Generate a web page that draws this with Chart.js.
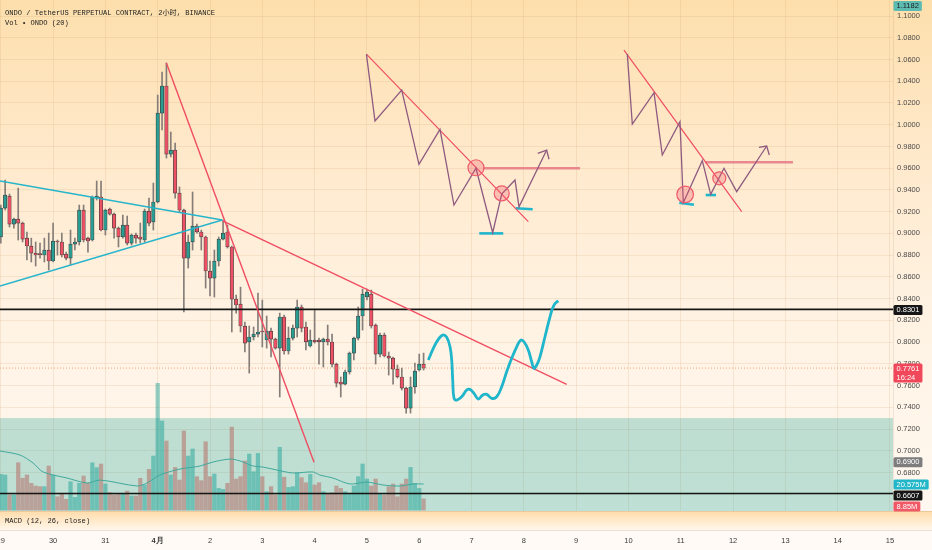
<!DOCTYPE html>
<html>
<head>
<meta charset="utf-8">
<script src="https://cdn.jsdelivr.net/npm/chart.js@4.4.1/dist/chart.umd.min.js"></script>
<style>
  html, body { margin: 0; padding: 0; background: #fffaf4; }
  #wrap { width: 932px; height: 550px; position: relative; overflow: hidden; }
  .lbl { position: absolute; left: 5px; font: 7.1px "Liberation Mono", "Noto Sans CJK SC", monospace; color: #1c1c1c; white-space: nowrap; }
</style>
</head>
<body>
<div id="wrap">
  <canvas id="chart" width="932" height="550"></canvas>
  <div class="lbl" style="top:7px">ONDO / TetherUS PERPETUAL CONTRACT, 2小时, BINANCE</div>
  <div class="lbl" style="top:19px">Vol • ONDO (20)</div>
  <div class="lbl" style="top:517px">MACD (12, 26, close)</div>
</div>
<script>
// 2h candles, index 0 = 1 Apr 00:00 (first visible = 29 Mar 00:00)
const firstIdx = -36;
const opens = [
  0.8967, 0.9233, 0.9344, 0.9086, 0.9132, 0.9095, 0.8957, 0.8884, 0.8819, 0.8810, 0.8801, 0.8847,
  0.8746, 0.8930, 0.8921, 0.8810, 0.8773, 0.8902, 0.8921, 0.9215, 0.8957, 0.8939, 0.9326, 0.9335,
  0.9031, 0.9224, 0.9178, 0.9049, 0.8967, 0.9077, 0.8911, 0.8985, 0.8967, 0.8939, 0.9206, 0.9105,
  0.9289, 1.0107, 1.0356, 0.9730, 0.9767, 0.9371, 0.9215, 0.8773, 0.8921, 0.9068, 0.9013, 0.8967,
  0.8654, 0.8589, 0.8746, 0.8948, 0.9013, 0.8875, 0.8396, 0.8350, 0.8148, 0.8001, 0.8047, 0.8074,
  0.8102, 0.8019, 0.8102, 0.8028, 0.7945, 0.8231, 0.7918, 0.8037, 0.8129, 0.8323, 0.8139, 0.7964,
  0.8019, 0.8019, 0.8001, 0.8028, 0.8001, 0.7798, 0.7633, 0.7614, 0.7725, 0.7899, 0.8037, 0.8240,
  0.8415, 0.8442, 0.8157, 0.7890, 0.8065, 0.7872, 0.7853, 0.7752, 0.7679, 0.7577, 0.7393, 0.7587,
  0.7743, 0.7798
];
const highs = [
  0.9261, 0.9491, 0.9362, 0.9141, 0.9417, 0.9105, 0.9013, 0.8957, 0.8921, 0.8911, 0.8957, 0.9003,
  0.9095, 0.8939, 0.9003, 0.8828, 0.9031, 0.8957, 0.9261, 0.9261, 0.8967, 0.9344, 0.9482, 0.9482,
  0.9224, 0.9233, 0.9187, 0.9059, 0.9169, 0.9160, 0.8994, 0.9003, 0.9095, 0.9224, 0.9326, 0.9463,
  1.0273, 1.0485, 1.0567, 0.9933, 0.9831, 0.9427, 0.9224, 0.8985, 0.9381, 0.9086, 0.9031, 0.8976,
  0.8746, 0.8847, 0.8967, 0.9123, 0.9077, 0.8884, 0.8433, 0.8506, 0.8185, 0.8148, 0.8139, 0.8451,
  0.8387, 0.8240, 0.8129, 0.8037, 0.8267, 0.8249, 0.8139, 0.8157, 0.8387, 0.8341, 0.8185, 0.8111,
  0.8295, 0.8037, 0.8037, 0.8157, 0.8074, 0.7807, 0.7679, 0.7743, 0.7909, 0.8047, 0.8323, 0.8488,
  0.8488, 0.8479, 0.8167, 0.8083, 0.8083, 0.7909, 0.7863, 0.7789, 0.7761, 0.7587, 0.7679, 0.7807,
  0.7890, 0.7899
];
const lows = [
  0.8911, 0.9215, 0.9059, 0.9049, 0.8939, 0.8921, 0.8755, 0.8737, 0.8700, 0.8773, 0.8737, 0.8663,
  0.8737, 0.8801, 0.8783, 0.8755, 0.8709, 0.8847, 0.8893, 0.8921, 0.8828, 0.8930, 0.9307, 0.9022,
  0.8985, 0.9169, 0.8957, 0.8875, 0.8957, 0.8893, 0.8893, 0.8911, 0.8911, 0.8921, 0.9068, 0.9031,
  0.9280, 0.9951, 0.9693, 0.9703, 0.9325, 0.9197, 0.8277, 0.8681, 0.8847, 0.9003, 0.8847, 0.8497,
  0.8424, 0.8415, 0.8700, 0.8939, 0.8865, 0.8093, 0.8267, 0.8093, 0.7909, 0.7715, 0.8019, 0.8047,
  0.7955, 0.7945, 0.7863, 0.7936, 0.7495, 0.7890, 0.7890, 0.8019, 0.8047, 0.8093, 0.7927, 0.7955,
  0.7991, 0.7798, 0.7771, 0.7973, 0.7771, 0.7587, 0.7495, 0.7605, 0.7706, 0.7835, 0.8019, 0.8111,
  0.8387, 0.8129, 0.7798, 0.7863, 0.7863, 0.7697, 0.7614, 0.7669, 0.7559, 0.7347, 0.7347, 0.7531,
  0.7734, 0.7743
];
const closes = [
  0.9233, 0.9353, 0.9086, 0.9132, 0.9095, 0.8948, 0.8884, 0.8819, 0.8801, 0.8805, 0.8847, 0.8746,
  0.8930, 0.8921, 0.8801, 0.8773, 0.8902, 0.8921, 0.9215, 0.8939, 0.8930, 0.9335, 0.9344, 0.9031,
  0.9215, 0.9178, 0.9049, 0.8967, 0.9077, 0.8911, 0.8985, 0.8957, 0.8948, 0.9206, 0.9095, 0.9289,
  1.0107, 1.0356, 0.9730, 0.9767, 0.9371, 0.9215, 0.8773, 0.8921, 0.9068, 0.9013, 0.8967, 0.8654,
  0.8589, 0.8746, 0.8948, 0.9003, 0.8875, 0.8396, 0.8341, 0.8148, 0.7991, 0.8047, 0.8074, 0.8093,
  0.8093, 0.8102, 0.8028, 0.7945, 0.8231, 0.7918, 0.8037, 0.8129, 0.8323, 0.8129, 0.8001, 0.8019,
  0.8001, 0.8001, 0.8028, 0.8001, 0.7798, 0.7623, 0.7614, 0.7725, 0.7899, 0.8037, 0.8240, 0.8442,
  0.8460, 0.8148, 0.7890, 0.8065, 0.7872, 0.7853, 0.7752, 0.7679, 0.7577, 0.7393, 0.7587, 0.7734,
  0.7798, 0.7761
];
// volume, millions
const volumes = [
  28.2, 27.7, 11.9, 11.9, 37.4, 25.1, 27.7, 21.1, 19.0, 18.5, 18.5, 34.8,
  27.7, 10.5, 12.7, 8.5, 22.4, 10.0, 21.1, 26.9, 21.1, 37.4, 33.5, 36.4,
  20.6, 13.7, 11.9, 13.2, 13.2, 15.0, 11.1, 11.1, 25.1, 19.8, 32.2, 42.7,
  100.2, 70.4, 54.6, 27.7, 33.7, 23.7, 62.5, 42.7, 48.3, 26.4, 23.2, 54.0,
  26.4, 28.5, 17.1, 16.3, 21.1, 65.6, 24.5, 26.4, 38.8, 44.3, 30.3, 44.8,
  26.4, 14.5, 18.5, 11.9, 49.6, 26.0, 17.9, 18.5, 29.5, 25.6, 21.6, 28.2,
  19.8, 21.6, 14.5, 13.2, 13.7, 19.0, 17.1, 14.5, 13.2, 19.0, 26.4, 36.4,
  24.5, 19.0, 24.5, 12.7, 11.9, 18.5, 20.6, 10.5, 20.6, 24.5, 33.7, 21.1,
  17.1, 8.85
];
// Vol MA(20)
const volMaIdx = [-36.2, -31.6, -28.6, -26.3, -20.8, -16.2, -13.2, -4.7, -2.45, 0.5, 5.1, 9.7, 12.7,
  16.6, 18.9, 21.9, 24.1, 27.4, 31.0, 35.6, 37.2, 40.2, 44.1, 48.0, 51.7, 55.6, 58.6, 61];
const volMaVals = [46.7, 43.5, 37.2, 30.1, 25.3, 21.4, 23.7, 19.0, 21.4, 27.7, 32.4, 34.8, 38.0,
  40.3, 38.8, 34.8, 34.0, 31.6, 29.3, 30.1, 27.7, 25.3, 20.6, 22.1, 19.8, 19.0, 20.6, 20.575];

// axes
const dayTicks = [-36, -24, -12, 0, 12, 24, 36, 48, 60, 72, 84, 96, 108, 120, 132, 144, 156, 168];
const dayLabels = ['29', '30', '31', '4月', '2', '3', '4', '5', '6', '7', '8', '9', '10', '11', '12', '13', '14', '15'];
const priceTicks = [0.66, 0.68, 0.70, 0.72, 0.74, 0.76, 0.78, 0.80, 0.82, 0.84, 0.86, 0.88, 0.90,
  0.92, 0.94, 0.96, 0.98, 1.00, 1.02, 1.04, 1.06, 1.08, 1.10];
const xMin = -36.18, xMax = 168.69;
const yMin = 0.62714, yMax = 1.11472;
const volMin = -15.8, volMax = 403.4;

// drawings, [candle index, price]
const triUpper = [[-36.18, 0.9482], [14.8, 0.9123]];
const triLower = [[-36.18, 0.8516], [14.8, 0.9123]];
const steepLine = [[1.97, 1.0570], [35.86, 0.6894]];
const downLine = [[14.9, 0.9115], [93.83, 0.7611]];
const levelHigh = 0.8301;
const levelLow = 0.6607;
const lastPrice = 0.7761;
const boxTop = 0.7301, boxBottom = 0.6446;
const pathCurve = [
  [62.08, 0.7835], [63.23, 0.7943], [64.37, 0.8025], [65.38, 0.8065], [66.30, 0.8044], [67.06, 0.7957],
  [67.45, 0.7835], [67.68, 0.7651], [67.98, 0.7483], [68.59, 0.7467], [69.74, 0.7497], [70.89, 0.7559],
  [71.64, 0.7565], [72.56, 0.7528], [73.55, 0.7476], [74.56, 0.7513], [75.48, 0.7519], [76.62, 0.7483],
  [77.77, 0.7497], [78.92, 0.7589], [80.06, 0.7727], [81.21, 0.7851], [82.36, 0.7957], [83.28, 0.8019],
  [84.03, 0.8003], [85.02, 0.7927], [85.80, 0.7819], [86.33, 0.7758], [86.95, 0.7789], [87.70, 0.7865],
  [88.85, 0.8049], [90.00, 0.8233], [90.91, 0.8341], [91.90, 0.8381]
];
const zig1 = [[47.88, 1.0650], [49.85, 1.0034], [55.98, 1.0319], [59.94, 0.9635], [64.76, 0.9957],
  [67.97, 0.9261], [73.02, 0.9599], [76.85, 0.9006], [78.92, 0.9362], [81.97, 0.9491], [82.89, 0.9245], [89.24, 0.9767]];
const arrow1 = [[87.18, 0.9737], [89.24, 0.9767], [89.77, 0.9682]];
const trend1 = [[47.88, 1.0650], [85.02, 0.9108]];
const circles1 = [[73.02, 0.9604, 8], [78.92, 0.9368, 7.5]];
const pink1 = [[74.7, 0.9599], [96.88, 0.9599]];
const cyanA = [[73.78, 0.9000], [79.28, 0.9000]];
const cyanB = [[82.13, 0.9231], [86.03, 0.9222]];
const zig2 = [[107.73, 1.0650], [108.88, 1.0006], [113.86, 1.0294], [115.76, 0.9721], [119.82, 1.0027],
  [120.58, 0.9282], [124.94, 0.9669], [126.86, 0.9359], [129.91, 0.9599], [132.83, 0.9384], [139.71, 0.9804]];
const arrow2 = [[137.94, 0.9792], [139.71, 0.9804], [140.31, 0.9721]];
const trend2 = [[106.97, 1.0687], [133.98, 0.9200]];
const circles2 = [[121.0, 0.9359, 8.3], [128.84, 0.9507, 6.5]];
const pink2 = [[125.56, 0.9654], [145.74, 0.9654]];
const cyanC = [[119.66, 0.9282], [123.02, 0.9264]];
const cyanD = [[125.72, 0.9353], [128.08, 0.9353]];

const badges = [
  { axis: 'y', value: 1.1182, text: ['1.1182'], bg: '#5dbcb2', fg: '#1d1d1d' },
  { axis: 'y', value: 0.8301, text: ['0.8301'], bg: '#161616', fg: '#ffffff' },
  { axis: 'y', value: 0.7761, text: ['0.7761', '16:24'], bg: '#f0475a', fg: '#ffffff' },
  { axis: 'y', value: 0.6900, text: ['0.6900'], bg: '#7d7d7d', fg: '#ffffff' },
  { axis: 'yv', value: 20.575, text: ['20.575M'], bg: '#22b7c8', fg: '#ffffff' },
  { axis: 'y', value: 0.6607, text: ['0.6607'], bg: '#161616', fg: '#ffffff' },
  { axis: 'yv', value: 8.85, text: ['8.85M'], bg: '#f05a66', fg: '#ffffff' }
];

const UP = '#2a9d92', DOWN = '#ee5164';
const pts = arr => arr.map(([x, y]) => ({ x, y }));

function lineDs(arr, color, width, extra) {
  return Object.assign({
    type: 'line', data: pts(arr), borderColor: color, borderWidth: width,
    pointRadius: 0, fill: false, tension: 0, order: 1, yAxisID: 'y'
  }, extra || {});
}
function circleDs(arr) {
  return {
    type: 'line', showLine: false, order: 0, yAxisID: 'y',
    data: arr.map(([x, y]) => ({ x, y })),
    pointRadius: arr.map(c => c[2]),
    pointBackgroundColor: 'rgba(240, 80, 96, 0.28)',
    pointBorderColor: '#ee5a6a', pointBorderWidth: 1.2
  };
}

const idx = closes.map((c, i) => firstIdx + i);
const isUp = closes.map((c, i) => c >= opens[i]);

const datasets = [
  {
    id: 'vol', type: 'bar', yAxisID: 'yv', order: 20, grouped: false,
    data: volumes.map((v, i) => ({ x: idx[i], y: [0, v] })),
    backgroundColor: isUp.map(u => u ? 'rgba(38,166,154,0.5)' : 'rgba(239,83,80,0.5)'),
    barThickness: 3.6, borderWidth: 0
  },
  {
    type: 'line', yAxisID: 'yv', order: 15, data: pts(volMaIdx.map((x, i) => [x, volMaVals[i]])),
    borderColor: '#3fa99c', borderWidth: 1, pointRadius: 0, tension: 0.3
  },
  {
    type: 'bar', yAxisID: 'y', order: 11, grouped: false,
    data: lows.map((l, i) => ({ x: idx[i], y: [l, highs[i]] })),
    backgroundColor: '#857d78', barThickness: 1, borderWidth: 0
  },
  {
    type: 'bar', yAxisID: 'y', order: 10, grouped: false,
    data: opens.map((o, i) => ({ x: idx[i], y: [o, closes[i]] })),
    backgroundColor: isUp.map(u => u ? UP : DOWN),
    borderColor: '#3e3e3e', borderWidth: 0.7, borderSkipped: false,
    barThickness: 3.5, minBarLength: 1
  },
  lineDs([[xMin, lastPrice], [xMax, lastPrice]], 'rgba(240,140,90,0.8)', 1, { borderDash: [1, 2], order: 5 }),
  lineDs([[xMin, levelHigh], [xMax, levelHigh]], '#161616', 1.6, { order: 4 }),
  lineDs([[xMin, levelLow], [xMax, levelLow]], '#161616', 1.6, { order: 4 }),
  lineDs(triUpper, '#27b5cc', 1.4),
  lineDs(triLower, '#27b5cc', 1.4),
  lineDs(steepLine, '#f04d62', 1.4),
  lineDs(downLine, '#f04d62', 1.4),
  lineDs(pathCurve, '#1fb6cc', 2.8, { tension: 0.4, order: 0 }),
  lineDs(pink1, 'rgba(229,120,132,0.85)', 2.6, { order: 2 }),
  lineDs(pink2, 'rgba(229,120,132,0.85)', 2.6, { order: 2 }),
  lineDs(zig1, '#8e5a80', 1.3),
  lineDs(arrow1, '#8e5a80', 1.3),
  lineDs(zig2, '#8e5a80', 1.3),
  lineDs(arrow2, '#8e5a80', 1.3),
  lineDs(trend1, '#f04d62', 1.2),
  lineDs(trend2, '#f04d62', 1.2),
  lineDs(cyanA, '#1fb6cc', 2.6),
  lineDs(cyanB, '#1fb6cc', 2.6),
  lineDs(cyanC, '#1fb6cc', 2.6),
  lineDs(cyanD, '#1fb6cc', 2.6),
  circleDs(circles1),
  circleDs(circles2)
];

// backgrounds for panes
const panesPlugin = {
  id: 'panes',
  beforeDraw(chart) {
    const { ctx, width, height } = chart;
    const paneBottom = chart.scales.y.getPixelForValue(boxBottom);
    const axisTop = chart.chartArea.bottom;
    let g = ctx.createLinearGradient(0, 0, 0, paneBottom);
    g.addColorStop(0, '#fddfac');
    g.addColorStop(0.3, '#ffe9cb');
    g.addColorStop(0.6, '#fff2e2');
    g.addColorStop(1, '#fff8f0');
    ctx.save();
    ctx.fillStyle = g;
    ctx.fillRect(0, 0, width, paneBottom);
    ctx.fillStyle = '#fffaf5';
    ctx.fillRect(0, axisTop, width, height - axisTop);
    ctx.restore();
  },
  afterDatasetDraw(chart, args) {
    if (chart.data.datasets[args.index].id !== 'vol') return;
    const { ctx, chartArea } = chart;
    const y = chart.scales.y;
    const top = y.getPixelForValue(boxTop);
    const bottom = y.getPixelForValue(boxBottom);
    ctx.save();
    ctx.fillStyle = 'rgba(0,150,136,0.25)';
    ctx.fillRect(chartArea.left, top, chartArea.right - chartArea.left, bottom - top);
    ctx.restore();
  },
  afterDatasetsDraw(chart) {
    const { ctx, width } = chart;
    const paneBottom = chart.scales.y.getPixelForValue(boxBottom);
    const axisTop = chart.chartArea.bottom;
    ctx.save();
    const g = ctx.createLinearGradient(0, paneBottom, 0, axisTop);
    g.addColorStop(0, '#ffdcaa');
    g.addColorStop(1, '#fff6ea');
    ctx.fillStyle = g;
    ctx.fillRect(0, paneBottom, width, axisTop - paneBottom);
    ctx.strokeStyle = 'rgba(120,90,60,0.15)';
    ctx.lineWidth = 1;
    ctx.beginPath();
    ctx.moveTo(0, Math.round(paneBottom) + 0.5);
    ctx.lineTo(width, Math.round(paneBottom) + 0.5);
    ctx.moveTo(0, Math.round(axisTop) + 0.5);
    ctx.lineTo(width, Math.round(axisTop) + 0.5);
    ctx.stroke();
    ctx.restore();
  }
};

// price tags on the right scale
const badgePlugin = {
  id: 'badges',
  afterDraw(chart) {
    const { ctx, chartArea } = chart;
    const x0 = chartArea.right + 0.5;
    ctx.save();
    ctx.font = '7.5px "Liberation Sans", sans-serif';
    ctx.textBaseline = 'middle';
    let prevBottom = -Infinity;
    badges.forEach(b => {
      const lineH = 9;
      const h = lineH * b.text.length + 1;
      let top = chart.scales[b.axis].getPixelForValue(b.value) - lineH / 2;
      top = Math.max(top, 1, prevBottom + 1);
      const w = Math.max(...b.text.map(t => ctx.measureText(t).width)) + 6;
      ctx.fillStyle = b.bg;
      ctx.beginPath();
      ctx.roundRect(x0, top, w, h, 1.5);
      ctx.fill();
      ctx.fillStyle = b.fg;
      b.text.forEach((t, i) => ctx.fillText(t, x0 + 3, top + lineH / 2 + 0.5 + i * lineH));
      prevBottom = top + h;
    });
    ctx.restore();
  }
};

new Chart(document.getElementById('chart'), {
  type: 'bar',
  data: { datasets },
  options: {
    responsive: false,
    animation: false,
    layout: { padding: 0, autoPadding: false },
    plugins: { legend: { display: false }, tooltip: { enabled: false } },
    scales: {
      x: {
        type: 'linear', min: xMin, max: xMax, offset: false, position: 'bottom',
        afterBuildTicks: s => { s.ticks = dayTicks.map(v => ({ value: v })); },
        afterFit: s => { s.height = 20; s.paddingLeft = 0; s.paddingRight = 0; },
        ticks: {
          autoSkip: false, maxRotation: 0, padding: 6, color: '#3a3a3a',
          font: c => ({ family: 'Liberation Sans', size: 7.5, weight: c.tick && c.tick.value === 0 ? 'bold' : 'normal' }),
          callback: v => dayLabels[dayTicks.indexOf(v)]
        },
        grid: { color: 'rgba(200,150,100,0.16)', drawTicks: false, offset: false },
        border: { display: false }
      },
      y: {
        type: 'linear', position: 'right', min: yMin, max: yMax,
        afterBuildTicks: s => { s.ticks = priceTicks.map(v => ({ value: v })); },
        afterFit: s => { s.width = 39; s.paddingTop = 0; s.paddingBottom = 0; },
        ticks: {
          padding: 4, color: '#4a4a4a', font: { family: 'Liberation Sans', size: 7.5 },
          callback: v => v.toFixed(4)
        },
        grid: { color: 'rgba(200,150,100,0.16)', drawTicks: false },
        border: { display: true, color: 'rgba(120,90,60,0.12)' }
      },
      yv: {
        type: 'linear', display: false, min: volMin, max: volMax
      }
    }
  },
  plugins: [panesPlugin, badgePlugin]
});
</script>
</body>
</html>
